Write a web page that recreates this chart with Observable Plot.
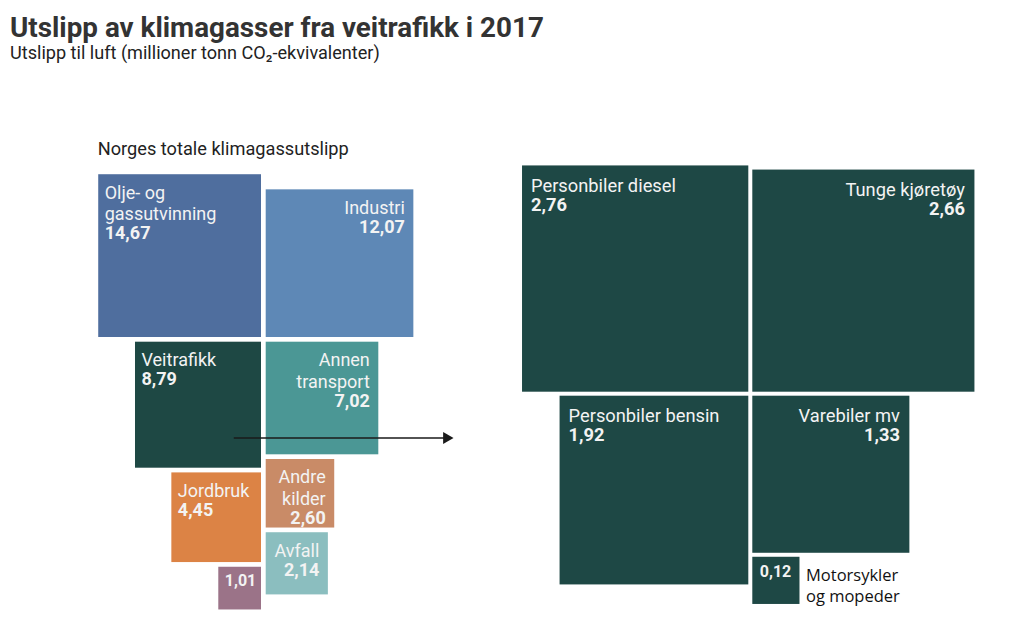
<!DOCTYPE html>
<html><head><meta charset="utf-8">
<script src="https://cdn.jsdelivr.net/npm/d3@7"></script>
<script src="https://cdn.jsdelivr.net/npm/@observablehq/plot@0.6"></script>
<style>
body{margin:0;background:#fff;font-family:Roboto,sans-serif;}
#header{height:64px;padding-left:10px;box-sizing:border-box;padding-top:12.5px;}
h1{margin:0;font-size:27.8px;line-height:30px;font-weight:700;color:#333;white-space:nowrap;}
.sub{margin:0;font-size:18.1px;line-height:20px;color:#222;white-space:nowrap;}
#chart svg{display:block;}
</style></head><body>
<div id="header"><h1>Utslipp av klimagasser fra veitrafikk i 2017</h1><div class="sub">Utslipp til luft (millioner tonn CO₂-ekvivalenter)</div></div>
<div id="chart"></div>
<script>
// ---- data ----
const totalTitle = "Norges totale klimagassutslipp";
const totalNames = ["Olje- og\ngassutvinning", "Industri", "Veitrafikk", "Annen\ntransport", "Jordbruk", "Andre\nkilder", "Avfall", ""];
const totalValues = [14.67, 12.07, 8.79, 7.02, 4.45, 2.60, 2.14, 1.01];
const roadNames = ["Personbiler diesel", "Tunge kjøretøy", "Personbiler bensin", "Varebiler mv", "Motorsykler\nog mopeder"];
const roadValues = [2.76, 2.66, 1.92, 1.33, 0.12];

// ---- styles / layout ----
const totalColors = ["#4f6e9e", "#5e88b6", "#1e4844", "#4b9795", "#dc8345", "#c98b67", "#8bbebf", "#9b7388"];
const roadColor = "#1e4845";
const totalCols = ["L","R","L","R","L","R","R","L"];
const roadCols = ["L","R","L","R","R"];

const fmt = v => v.toFixed(2).replace(".", ",");

function layout(names, values, colors, cols, g) {
  let nextL = null, nextR = null;
  return values.map((v, i) => {
    const s = g.k * Math.sqrt(v);
    const side = cols[i];
    const x1 = side === "L" ? g.cx - g.gap / 2 - s : g.cx + g.gap / 2;
    let y1;
    if (side === "L") {
      if (nextL === null) { y1 = g.baseY - s; nextL = g.baseY + g.gap; }
      else { y1 = nextL; nextL = y1 + s + g.gap; }
    } else {
      if (nextR === null) { y1 = g.baseY - s; nextR = g.baseY + g.gap; }
      else { y1 = nextR; nextR = y1 + s + g.gap; }
    }
    const label = names[i];
    const nLines = label ? label.split("\n").length : 0;
    const small = s < 55;
    const fs = small ? g.smallFs : g.fs;
    const tx = small ? x1 + g.smallPad : (side === "L" ? x1 + g.padStart : x1 + s - g.padEnd);
    const baseOff = small ? g.smallBase : g.baseOff;
    const nameY = y1 + baseOff - 0.71 * fs;
    const valY = small ? nameY : nameY + nLines * g.lh * fs;
    return {label, value: v, valText: fmt(v), color: colors[i], x1, x2: x1 + s, y1, y2: y1 + s, side, small, fs, lh: g.lh, tx, nameY, valY, outX: x1 + s + 6};
  });
}

const gLeft = {k: 42.5, cx: 263.35, gap: 4.7, baseY: 337, fs: 18, lh: 1.19, padStart: 6, padEnd: 9, baseOff: 21.5, smallFs: 16, smallPad: 6, smallBase: 18.5};
const gRight = {k: 136.2, cx: 750.3, gap: 4, baseY: 391.7, fs: 18.3, lh: 1.15, padStart: 8.5, padEnd: 10, baseOff: 24, smallFs: 16, smallPad: 7, smallBase: 19.4};

const leftBoxes = layout(totalNames, totalValues, totalColors, totalCols, gLeft);
const rightBoxes = layout(roadNames, roadValues, roadNames.map(() => roadColor), roadCols, gRight);
const boxes = leftBoxes.concat(rightBoxes);

const veit = leftBoxes[2];
const arrowTipX = 453;
const arrow = [{x1: veit.x1 + 0.78 * (veit.x2 - veit.x1), x2: arrowTipX, y: veit.y1 + 0.76 * (veit.y2 - veit.y1)}];

const textFill = "#f3f3f3";
function labelMarks(list) {
  const marks = [];
  for (const anchor of ["start", "end"]) {
    const big = list.filter(d => !d.small && (anchor === "start" ? d.side === "L" : d.side === "R"));
    if (!big.length) continue;
    const fs = big[0].fs, lh = big[0].lh;
    marks.push(Plot.text(big, {x: "tx", y: "nameY", text: "label", textAnchor: anchor, lineAnchor: "top", fontSize: fs, lineHeight: lh, fill: textFill}));
    marks.push(Plot.text(big, {x: "tx", y: "valY", text: "valText", textAnchor: anchor, lineAnchor: "top", fontSize: fs, fontWeight: 700, fill: textFill}));
  }
  const small = list.filter(d => d.small);
  if (small.length) {
    marks.push(Plot.text(small, {x: "tx", y: "valY", text: "valText", textAnchor: "start", lineAnchor: "top", fontSize: small[0].fs, fontWeight: 700, fill: textFill}));
    marks.push(Plot.text(small.filter(d => d.label), {x: "outX", y: "nameY", text: "label", textAnchor: "start", lineAnchor: "top", fontSize: 16.5, lineHeight: 1.31, fontFamily: "'Open Sans', sans-serif", fill: "#111"}));
  }
  return marks;
}

const olje = leftBoxes[0];
const headerH = 64;
const chart = Plot.plot({
  width: 1024,
  height: 638 - headerH,
  margin: 0,
  x: {domain: [0, 1024], range: [0, 1024], axis: null},
  y: {domain: [headerH, 638], range: [0, 638 - headerH], axis: null},
  color: {type: "identity"},
  style: {fontFamily: "Roboto, sans-serif", background: "#fff"},
  marks: [
    Plot.text([totalTitle], {x: olje.x1 - 1, y: olje.y1 - 19.8, text: d => d, textAnchor: "start", lineAnchor: "bottom", fontSize: 18.2, fill: "#222"}),
    Plot.rect(boxes, {x1: "x1", x2: "x2", y1: "y1", y2: "y2", fill: "color"}),
    ...labelMarks(leftBoxes),
    ...labelMarks(rightBoxes),
    Plot.link(arrow, {x1: "x1", x2: d => d.x2 - 8, y1: "y", y2: "y", stroke: "#1a1a1a", strokeWidth: 1.5}),
    Plot.dot(arrow, {x: d => d.x2 - 6.9, y: "y", symbol: "triangle", r: 4.45, rotate: 90, fill: "#1a1a1a", stroke: null})
  ]
});
document.getElementById("chart").appendChild(chart);
</script>
</body></html>
